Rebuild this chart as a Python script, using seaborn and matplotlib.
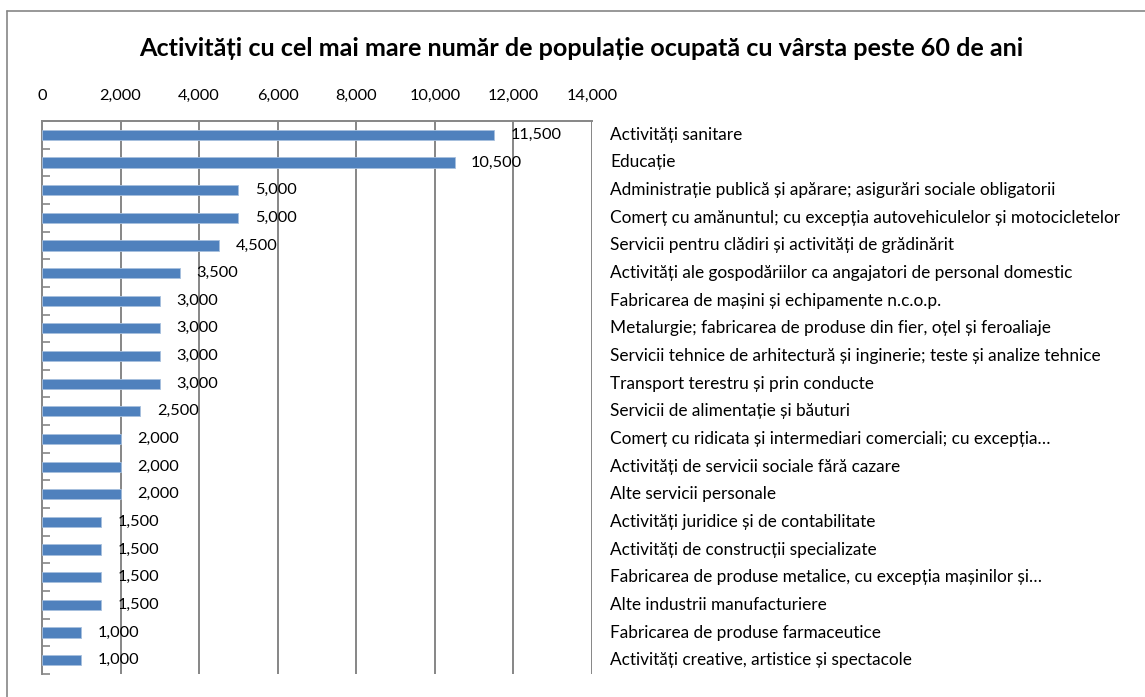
import numpy as np
import pandas as pd
import seaborn as sns
import matplotlib
matplotlib.use("Agg")
import matplotlib.pyplot as plt
import matplotlib.transforms as mtransforms
from matplotlib.lines import Line2D

categories = [
    "Activități sanitare",
    "Educație",
    "Administrație publică și apărare; asigurări sociale obligatorii",
    "Comerț cu amănuntul; cu excepția autovehiculelor și motocicletelor",
    "Servicii pentru clădiri și activități de grădinărit",
    "Activități ale gospodăriilor ca angajatori de personal domestic",
    "Fabricarea de mașini și echipamente n.c.o.p.",
    "Metalurgie; fabricarea de produse din fier, oțel și feroaliaje",
    "Servicii tehnice de arhitectură și inginerie; teste și analize tehnice",
    "Transport terestru și prin conducte",
    "Servicii de alimentație și băuturi",
    "Comerț cu ridicata și intermediari comerciali; cu excepția…",
    "Activități de servicii sociale fără cazare",
    "Alte servicii personale",
    "Activități juridice și de contabilitate",
    "Activități de construcții specializate",
    "Fabricarea de produse metalice, cu excepția mașinilor și…",
    "Alte industrii manufacturiere",
    "Fabricarea de produse farmaceutice",
    "Activități creative, artistice și spectacole",
]
values = [11500, 10500, 5000, 5000, 4500, 3500, 3000, 3000, 3000, 3000,
          2500, 2000, 2000, 2000, 1500, 1500, 1500, 1500, 1000, 1000]
x_ticks = [0, 2000, 4000, 6000, 8000, 10000, 12000, 14000]
title = "Activități cu cel mai mare număr de populație ocupată cu vârsta peste 60 de ani"

sns.set_theme(style="white")
plt.rcParams["font.family"] = ["Lato", "DejaVu Sans"]

W, H = 1145, 697
fig = plt.figure(figsize=(W / 100, H / 100), dpi=100)
ax = fig.add_axes([42 / W, 1 - 674 / H, 550 / W, 553 / H])

df = pd.DataFrame({"cat": categories, "val": values})
sns.barplot(data=df, y="cat", x="val", orient="h", color="#4F81BD",
            saturation=1, width=0.37, ax=ax, zorder=3,
            edgecolor="#A7C0DE", linewidth=0.6)

grid_c = "#868686"
fs = 11.8
ax.set_xlim(0, 14000)
ax.set_ylim(len(categories) - 0.5, -0.5)
ax.set_xticks(x_ticks)
ax.set_xticklabels([f"{t:,}" for t in x_ticks], fontsize=fs)
ax.xaxis.tick_top()
ax.tick_params(axis="x", which="both", length=0, pad=13, colors="black")
for t in x_ticks[1:]:
    ax.axvline(t, color=grid_c, lw=1.4, zorder=1)

ax.set_yticks(range(len(categories)))
ax.set_yticklabels([])
ax.tick_params(axis="y", which="major", length=0)
ax.set_yticks(np.arange(-0.5, len(categories), 1), minor=True)
ax.tick_params(axis="y", which="minor", direction="in", length=6, width=1.2,
               color=grid_c, left=True)
ax.set_xlabel("")
ax.set_ylabel("")

for side in ["right", "bottom"]:
    ax.spines[side].set_visible(False)
for side in ["left", "top"]:
    ax.spines[side].set_visible(True)
    ax.spines[side].set_color(grid_c)
    ax.spines[side].set_linewidth(1.4)

# value labels
off = mtransforms.offset_copy(ax.transData, fig=fig, x=12, y=0, units="points")
for i, v in enumerate(values):
    ax.text(v, i, f"{v:,}", transform=off, ha="left", va="center",
            fontsize=fs, color="black", zorder=5)

# category labels to the right
trans = mtransforms.blended_transform_factory(ax.transAxes, ax.transData)
for i, c in enumerate(categories):
    ax.text(1 + 18 / 550, i, c, transform=trans, ha="left", va="center",
            fontsize=12.45, color="black")

fig.text(581 / W, 1 - 48 / H, title, ha="center", va="center",
         fontsize=18.1, fontweight="bold", color="black")

# outer chart border (left and top)
fig.add_artist(Line2D([7 / W, 7 / W], [0, 1 - 11 / H], transform=fig.transFigure,
                      color=grid_c, lw=1.2))
fig.add_artist(Line2D([7 / W, 1], [1 - 11 / H, 1 - 11 / H], transform=fig.transFigure,
                      color=grid_c, lw=1.2))

fig.savefig("out.png", dpi=100)
